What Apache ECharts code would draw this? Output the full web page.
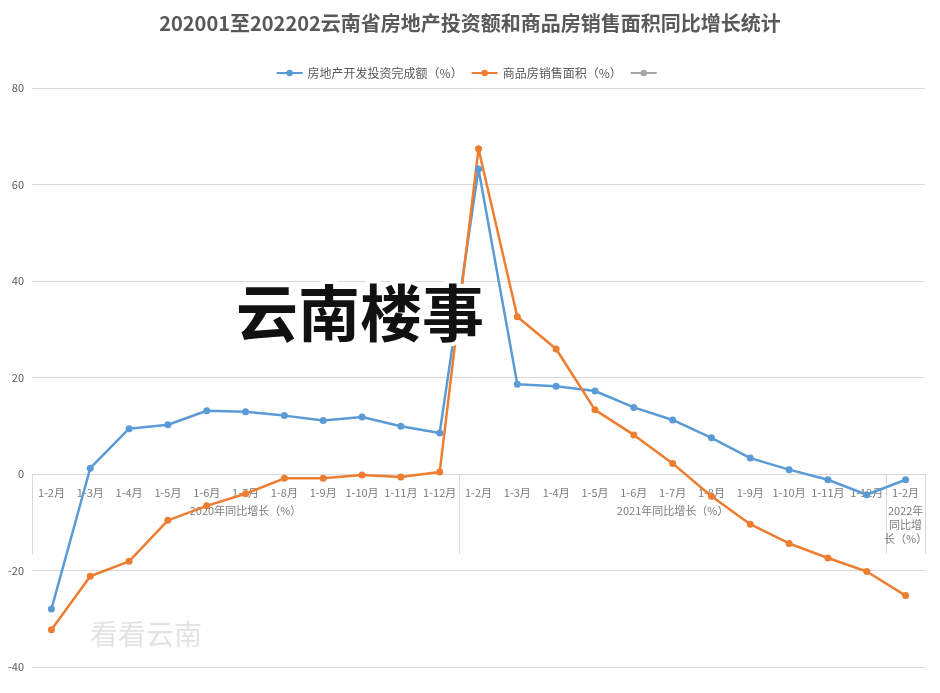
<!DOCTYPE html>
<html>
<head>
<meta charset="utf-8">
<script src="https://cdn.jsdelivr.net/npm/echarts@6/dist/echarts.min.js"></script>
<style>
  html, body { margin: 0; padding: 0; background: #fff; }
  #chart { width: 940px; height: 693px; }
</style>
</head>
<body>
<div id="chart"></div>
<script>
// month labels, 2020 x11, 2021 x11, 2022 x1
const months = [
  "1-2月", "1-3月", "1-4月", "1-5月", "1-6月", "1-7月", "1-8月", "1-9月", "1-10月", "1-11月", "1-12月",
  "1-2月", "1-3月", "1-4月", "1-5月", "1-6月", "1-7月", "1-8月", "1-9月", "1-10月", "1-11月", "1-12月",
  "1-2月",
];
const groupLabels = { 5: ["2020年同比增长（%）"], 16: ["2021年同比增长（%）"], 22: ["2022年", "同比增", "长（%）"] };
const groupBounds = [0, 11, 22, 23];

const investment = [-28.0, 1.2, 9.4, 10.2, 13.1, 12.9, 12.1, 11.1, 11.8, 9.9, 8.5,
  63.2, 18.6, 18.2, 17.2, 13.8, 11.2, 7.5, 3.3, 0.9, -1.2, -4.3, -1.2];
const salesArea = [-32.3, -21.2, -18.1, -9.6, -6.6, -4.1, -0.9, -0.9, -0.2, -0.6, 0.4,
  67.4, 32.6, 25.9, 13.3, 8.1, 2.2, -4.6, -10.4, -14.4, -17.4, -20.2, -25.2];

const chart = echarts.init(document.getElementById("chart"));

// category labels hang under the zero line, like the spreadsheet original
const labelPoints = months.map((m, i) => {
  const g = groupLabels[i];
  return {
    value: [i, 0],
    label: { formatter: g ? m + "\n" + g.map((s) => "{g|" + s + "}").join("\n") : m },
  };
});

chart.setOption({
  backgroundColor: "#fff",
  textStyle: { fontFamily: "Noto Sans CJK SC" },
  title: {
    text: "202001至202202云南省房地产投资额和商品房销售面积同比增长统计",
    left: "center",
    top: 8,
    textStyle: { fontSize: 20, fontWeight: "bold", color: "#595959" },
  },
  legend: {
    top: 62,
    itemWidth: 26,
    itemHeight: 8,
    textStyle: { fontSize: 12, color: "#595959" },
    data: ["房地产开发投资完成额（%）", "商品房销售面积（%）", " "],
  },
  grid: { left: 32, right: 15, top: 88, bottom: 26, outerBoundsMode: "none" },
  xAxis: {
    type: "category",
    data: months,
    axisLine: { onZero: true, lineStyle: { color: "#d9d9d9" } },
    axisTick: {
      show: true,
      length: 80,
      interval: (i) => groupBounds.includes(i),
      lineStyle: { color: "#d9d9d9" },
    },
    axisLabel: { show: false },
  },
  yAxis: {
    type: "value",
    min: -40,
    max: 80,
    interval: 20,
    axisLine: { show: false },
    axisTick: { show: false },
    axisLabel: { fontSize: 11, color: "#595959" },
    splitLine: { lineStyle: { color: "#d9d9d9" } },
  },
  series: [
    {
      name: "labels",
      type: "scatter",
      data: labelPoints,
      symbolSize: 0,
      silent: true,
      z: 1,
      label: {
        show: true,
        position: "bottom",
        distance: 8,
        align: "center",
        verticalAlign: "top",
        fontSize: 11,
        color: "#595959",
        lineHeight: 22,
        rich: { g: { fontSize: 11, color: "#595959", lineHeight: 14 } },
      },
    },
    {
      name: "房地产开发投资完成额（%）",
      type: "line",
      data: investment,
      color: "#5b9bd5",
      symbol: "circle",
      symbolSize: 7,
      lineStyle: { width: 2.5 },
      z: 3,
    },
    {
      name: "商品房销售面积（%）",
      type: "line",
      data: salesArea,
      color: "#ed7d31",
      symbol: "circle",
      symbolSize: 7,
      lineStyle: { width: 2.5 },
      z: 3,
    },
    { name: " ", type: "line", data: [], color: "#a5a5a5", symbol: "circle" },
  ],
  graphic: [
    {
      type: "text",
      left: 232,
      top: 278,
      z: 100,
      style: {
        text: "云南楼事",
        fontSize: 62,
        fontWeight: "bold",
        fontFamily: "Noto Sans CJK SC",
        fill: "#111",
        stroke: "#fff",
        lineWidth: 8,
      },
    },
    {
      type: "text",
      left: 90,
      top: 620,
      z: 100,
      style: { text: "看看云南", fontSize: 28, fill: "rgba(200,200,200,0.5)", fontFamily: "Noto Sans CJK SC" },
    },
  ],
});
</script>
</body>
</html>
